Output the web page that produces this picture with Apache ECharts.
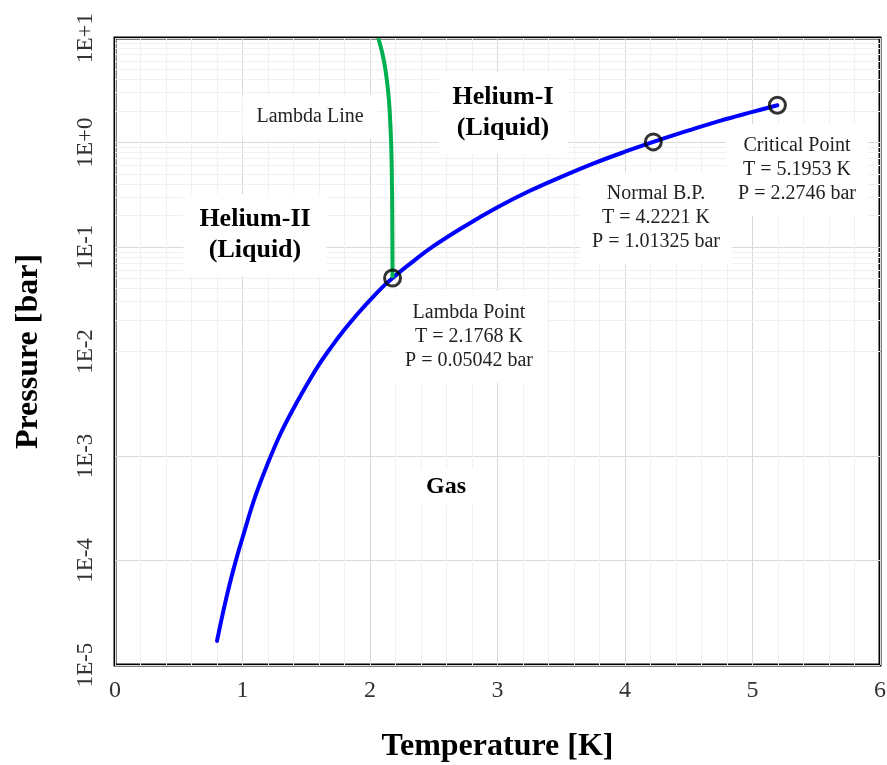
<!DOCTYPE html>
<html>
<head>
<meta charset="utf-8">
<script src="https://cdn.jsdelivr.net/npm/echarts@6/dist/echarts.min.js"></script>
<style>
html,body{margin:0;padding:0;background:#fff;}
#chart{width:887px;height:765px;}
</style>
</head>
<body>
<div id="chart"></div>
<script>
// Saturated vapour pressure curve of helium-4 (T in K, P in bar)
var vaporT = [0.8, 0.85, 0.9, 0.95, 1.0, 1.1, 1.2, 1.3, 1.4, 1.5, 1.6, 1.7, 1.8, 1.9, 2.0, 2.1, 2.1768, 2.3, 2.5, 2.75, 3.0, 3.25, 3.5, 3.75, 4.0, 4.2221, 4.5, 4.75, 5.0, 5.1953];
var vaporP = [1.7e-5, 3.3e-5, 6.0e-5, 1.02e-4, 1.65e-4, 4.1e-4, 8.6e-4, 1.65e-3, 2.85e-3, 4.7e-3, 7.5e-3, 1.12e-2, 1.62e-2, 2.27e-2, 3.10e-2, 4.16e-2, 5.042e-2, 6.7e-2, 0.1023, 0.160, 0.240, 0.343, 0.469, 0.628, 0.816, 1.01325, 1.305, 1.62, 1.963, 2.2746];

// Lambda line (T in K, P in bar)
var lambdaT = [2.1768, 2.1746, 2.1712, 2.1656, 2.1544, 2.1432, 2.1208, 2.0984, 2.0648];
var lambdaP = [0.05042, 0.2, 0.5, 1, 2, 3, 5, 7, 10];

// Marked points: lambda point, normal boiling point, critical point
var pointNames = ['Lambda Point', 'Normal B.P.', 'Critical Point'];
var pointT = [2.1768, 4.2221, 5.1953];
var pointP = [0.05042, 1.01325, 2.2746];

// Axis ticks
var xTicks = [0, 1, 2, 3, 4, 5, 6];
var yMin = 1e-5, yMax = 10;
var minorMantissas = [2, 3, 4, 5, 6, 7, 8, 9];
var minorDecades = [1e-5, 1e-4, 1e-3, 1e-2, 1e-1, 1];

var minorLines = [];
minorDecades.forEach(function (d) {
  minorMantissas.forEach(function (m) {
    minorLines.push({ yAxis: m * d });
  });
});

function zip(a, b) { return a.map(function (v, i) { return [v, b[i]]; }); }

var serif = '"Liberation Serif", "Times New Roman", serif';

var chart = echarts.init(document.getElementById('chart'), null, { renderer: 'canvas' });

function txt(text, x, y, opts) {
  return {
    type: 'text',
    z: 2,
    silent: true,
    style: Object.assign({
      text: text,
      x: x,
      y: y,
      align: 'center',
      verticalAlign: 'middle',
      fill: '#222',
      backgroundColor: '#fff'
    }, opts)
  };
}

var normalFont = '20px ' + serif;
var boldFont = 'bold 26px ' + serif;

chart.setOption({
  animation: false,
  backgroundColor: '#fff',
  grid: {
    left: 115, right: 7, top: 38, bottom: 100,
    containLabel: false, outerBoundsMode: 'none',
    show: true, borderColor: '#000', borderWidth: 3, backgroundColor: 'transparent'
  },
  xAxis: {
    type: 'value', min: xTicks[0], max: xTicks[xTicks.length - 1], interval: 1,
    name: 'Temperature [K]', nameLocation: 'middle', nameGap: 66,
    nameTextStyle: { fontFamily: serif, fontWeight: 'bold', fontSize: 32, color: '#000' },
    axisLine: { show: false }, axisTick: { show: false },
    axisLabel: { fontFamily: serif, fontSize: 24, color: '#333', margin: 14 },
    splitLine: { show: true, lineStyle: { color: '#d9d9d9', width: 1 } },
    minorTick: { show: false, splitNumber: 5 },
    minorSplitLine: { show: true, lineStyle: { color: '#f0f0f0', width: 1 } }
  },
  yAxis: {
    type: 'log', logBase: 10, min: yMin, max: yMax, splitNumber: 6,
    name: 'Pressure [bar]', nameLocation: 'middle', nameGap: 70, nameRotate: 90,
    nameTextStyle: { fontFamily: serif, fontWeight: 'bold', fontSize: 32, color: '#000' },
    axisLine: { show: false }, axisTick: { show: false },
    axisLabel: {
      fontFamily: serif, fontSize: 23, color: '#333', rotate: 90, margin: 18,
      formatter: function (v) {
        var e = Math.round(Math.log10(v));
        return '1E' + (e >= 0 ? '+' + e : '' + e);
      }
    },
    splitLine: { show: true, lineStyle: { color: '#d9d9d9', width: 1 } }
  },
  graphic: [
    txt('Lambda Line', 310, 117, { font: normalFont, padding: [12, 14] }),
    txt('Helium-I\n(Liquid)', 503, 113, { font: boldFont, lineHeight: 31, padding: [10, 14], fill: '#000' }),
    txt('Helium-II\n(Liquid)', 255, 235, { font: boldFont, lineHeight: 31, padding: [10, 16], fill: '#000' }),
    txt('Gas', 446, 487, { font: 'bold 24px ' + serif, padding: [6, 10], fill: '#000' }),
    txt('Lambda Point\nT = 2.1768 K\nP = 0.05042 bar', 469, 337, { font: normalFont, lineHeight: 24, padding: [10, 14] }),
    txt('Normal B.P.\nT = 4.2221 K\nP = 1.01325 bar', 656, 218, { font: normalFont, lineHeight: 24, padding: [10, 12] }),
    txt('Critical Point\nT = 5.1953 K\nP = 2.2746 bar', 797, 170, { font: normalFont, lineHeight: 24, padding: [10, 12] })
  ],
  series: [
    {
      type: 'line', data: [], z: 1, silent: true,
      markLine: {
        z: 1, zlevel: 0,
        silent: true, symbol: 'none', label: { show: false }, animation: false,
        lineStyle: { color: '#f0f0f0', width: 1, type: 'solid' },
        data: minorLines
      }
    },
    {
      name: 'Vapour pressure', type: 'line', data: zip(vaporT, vaporP), z: 3,
      smooth: 0.4, showSymbol: false, symbol: 'none',
      lineStyle: { color: '#0000ff', width: 4, cap: 'round' }
    },
    {
      name: 'Lambda line', type: 'line', data: zip(lambdaT, lambdaP), z: 3,
      smooth: 0.4, showSymbol: false, symbol: 'none',
      lineStyle: { color: '#00b050', width: 4 }
    },
    {
      name: 'Points', type: 'scatter', data: zip(pointT, pointP), z: 4,
      symbol: 'circle', symbolSize: 16,
      itemStyle: { color: 'rgba(0,0,0,0)', borderColor: '#000', borderWidth: 3 }
    }
  ]
});
</script>
</body>
</html>
